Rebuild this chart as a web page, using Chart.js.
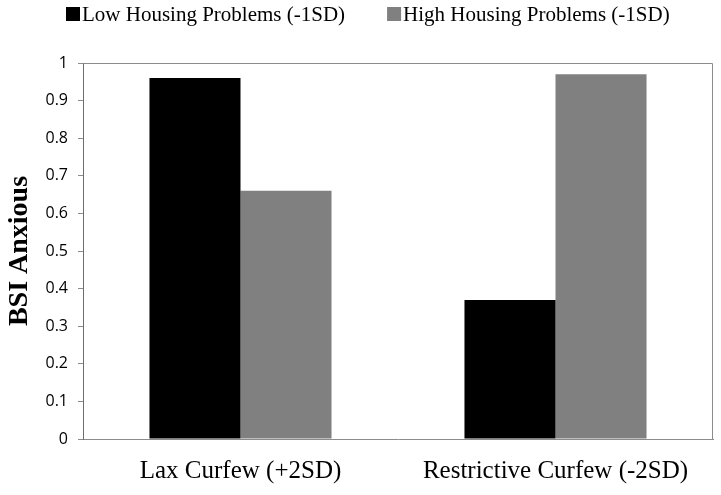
<!DOCTYPE html>
<html lang="en">
<head>
    <meta charset="UTF-8">
    <title>BSI Anxious by Curfew and Housing Problems</title>
    <script src="https://cdn.jsdelivr.net/npm/chart.js"></script>
    <style>
        html, body {
            margin: 0;
            padding: 0;
            background: #ffffff;
        }
        canvas {
            display: block;
        }
    </style>
</head>
<body>
    <canvas id="barChart" width="721" height="495"></canvas>
    <script>
        // Chart values
        const categories = ['Lax Curfew (+2SD)', 'Restrictive Curfew (-2SD)'];
        const seriesNames = ['Low Housing Problems (-1SD)', 'High Housing Problems (-1SD)'];
        const lowHousing = [0.96, 0.37];
        const highHousing = [0.66, 0.97];
        const yTickLabels = ['0', '0.1', '0.2', '0.3', '0.4', '0.5', '0.6', '0.7', '0.8', '0.9', '1'];

        // Legend across the top, square swatch right next to the text
        const topLegend = {
            id: 'topLegend',
            afterDraw(chart) {
                const ctx = chart.ctx;
                ctx.save();
                ctx.font = '21px "Liberation Serif"';
                ctx.textBaseline = 'alphabetic';
                let x = 66;
                chart.data.datasets.forEach(ds => {
                    ctx.fillStyle = ds.backgroundColor;
                    ctx.fillRect(x, 7, 14, 14);
                    ctx.fillStyle = '#000000';
                    ctx.fillText(ds.label, x + 16, 21);
                    x += 16 + ctx.measureText(ds.label).width + 42;
                });
                ctx.restore();
            }
        };

        // Gray frame on the top and right of the plot area
        const plotFrame = {
            id: 'plotFrame',
            beforeDatasetsDraw(chart) {
                const { ctx, chartArea: a } = chart;
                const l = Math.round(a.left) + 0.5;
                const t = Math.round(a.top) + 0.5;
                const r = Math.round(a.right) - 0.5;
                const b = Math.round(a.bottom);
                ctx.save();
                ctx.strokeStyle = '#8c8c8c';
                ctx.lineWidth = 1;
                ctx.beginPath();
                ctx.moveTo(l, t);
                ctx.lineTo(r, t);
                ctx.lineTo(r, b);
                ctx.stroke();
                ctx.restore();
            }
        };

        const ctxBar = document.getElementById('barChart').getContext('2d');
        const barChart = new Chart(ctxBar, {
            type: 'bar',
            data: {
                labels: categories,
                datasets: [
                    {
                        label: seriesNames[0],
                        data: lowHousing,
                        backgroundColor: '#000000',
                        borderWidth: 0,
                        categoryPercentage: 0.578,
                        barPercentage: 1.0
                    },
                    {
                        label: seriesNames[1],
                        data: highHousing,
                        backgroundColor: '#808080',
                        borderWidth: 0,
                        categoryPercentage: 0.578,
                        barPercentage: 1.0
                    }
                ]
            },
            options: {
                responsive: false,
                animation: false,
                layout: {
                    padding: { top: 63, left: 0, right: 8, bottom: 0 }
                },
                plugins: {
                    legend: { display: false },
                    tooltip: { enabled: false }
                },
                scales: {
                    x: {
                        afterFit(scale) { scale.height = 56; },
                        grid: { display: false, drawTicks: false },
                        border: { display: true, color: '#8c8c8c', width: 1 },
                        ticks: {
                            padding: 17,
                            color: '#000000',
                            font: { family: '"Liberation Serif"', size: 25 }
                        }
                    },
                    y: {
                        min: 0,
                        max: 1,
                        afterFit(scale) { scale.width = 83; },
                        grid: {
                            drawOnChartArea: false,
                            drawTicks: true,
                            tickLength: 5,
                            color: '#8c8c8c'
                        },
                        border: { display: true, color: '#6e6e6e', width: 1 },
                        ticks: {
                            stepSize: 0.1,
                            padding: 10,
                            color: '#000000',
                            font: { family: '"Open Sans"', size: 16 },
                            callback: (value, i) => yTickLabels[i]
                        },
                        title: {
                            display: true,
                            text: 'BSI Anxious',
                            color: '#000000',
                            font: { family: '"Liberation Serif"', size: 28, weight: 'bold' },
                            padding: { top: 3, bottom: 0 }
                        }
                    }
                }
            },
            plugins: [plotFrame, topLegend]
        });
    </script>
</body>
</html>
